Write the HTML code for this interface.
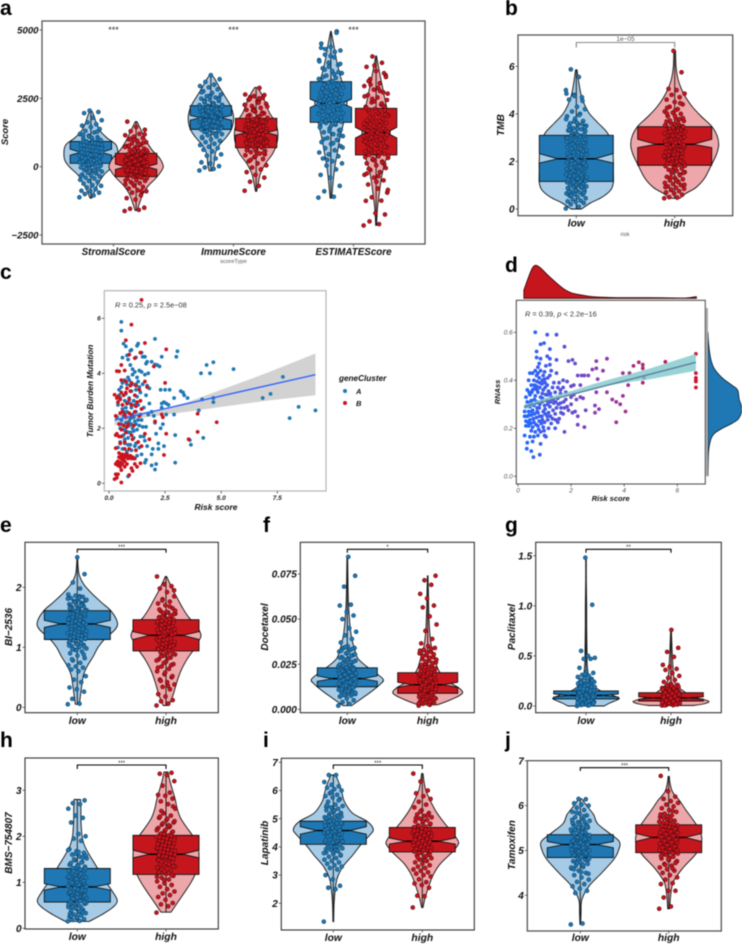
<!DOCTYPE html>
<html lang="en">
<head>
<meta charset="utf-8">
<title>Risk score multi-panel figure</title>
<style>
html,body{margin:0;padding:0;background:#fff;width:742px;height:944px;overflow:hidden}
svg{display:block;filter:blur(.45px)}
text{font-family:"Liberation Sans",sans-serif}
.letter{font-size:21px;font-weight:700;fill:#000}
.ylab{font-size:10px;font-weight:700;font-style:italic;fill:#111;text-anchor:middle}
.small{font-size:5.8px;fill:#555;text-anchor:middle}
</style>
</head>
<body>
<svg id="figure" xmlns="http://www.w3.org/2000/svg" width="742" height="944" viewBox="0 0 742 944">
<rect width="742" height="944" fill="#fff"/>
<g id="plots"></g>
<g>
<text class="letter" x="0" y="15">a</text>
<text class="letter" x="505" y="15">b</text>
<text class="letter" x="0" y="279">c</text>
<text class="letter" x="505" y="272">d</text>
<text class="letter" x="0" y="532">e</text>
<text class="letter" x="263" y="532">f</text>
<text class="letter" x="505" y="532">g</text>
<text class="letter" x="0" y="747">h</text>
<text class="letter" x="263" y="747">i</text>
<text class="letter" x="505" y="747">j</text>
</g>
<g>
<text class="ylab" style="font-size:9.5px" transform="translate(8,132) rotate(-90)">Score</text>
<text class="small" x="233.5" y="263">scoreType</text>
<text class="ylab" transform="translate(504,125) rotate(-90)">TMB</text>
<text class="small" x="625" y="236">risk</text>
<text class="ylab" style="font-size:8.2px" transform="translate(93,391) rotate(-90)">Tumor Burden Mutation</text>
<text class="ylab" style="font-size:8.5px" x="216" y="510">Risk score</text>
<text class="ylab" style="font-size:7.5px" transform="translate(500,392) rotate(-90)">RNAss</text>
<text class="ylab" style="font-size:7.5px" x="610.7" y="501">Risk score</text>
<text class="ylab" transform="translate(12,627) rotate(-90)">BI−2536</text>
<text class="ylab" transform="translate(268,627) rotate(-90)">Docetaxel</text>
<text class="ylab" transform="translate(515,627) rotate(-90)">Paclitaxel</text>
<text class="ylab" transform="translate(12,843) rotate(-90)">BMS−754807</text>
<text class="ylab" transform="translate(268,843) rotate(-90)">Lapatinib</text>
<text class="ylab" transform="translate(515,845) rotate(-90)">Tamoxifen</text>
</g>
<g>
<text x="115" y="307.7" font-size="7.4" fill="#333"><tspan font-style="italic">R</tspan> = 0.25, <tspan font-style="italic">p</tspan> = 2.5e−08</text>
<text x="525" y="316.3" font-size="7.4" fill="#333"><tspan font-style="italic">R</tspan> = 0.39, <tspan font-style="italic">p</tspan> &lt; 2.2e−16</text>
</g>
<g>
<text x="339" y="381" font-size="8.2" font-weight="700" font-style="italic" fill="#111">geneCluster</text>
<circle cx="345" cy="391" r="2" fill="#1f78b4"/>
<text x="356" y="394" font-size="7.5" font-weight="700" font-style="italic" fill="#111">A</text>
<circle cx="345" cy="403" r="2" fill="#c9141e"/>
<text x="356" y="406" font-size="7.5" font-weight="700" font-style="italic" fill="#111">B</text>
</g>
</svg>
<script>
/* ---------- panel a data ---------- */
const aCategories=['StromalScore','ImmuneScore','ESTIMATEScore'];
const aTicks=[5000,2500,0,-2500];
const aTickLabels=['5000','2500','0','−2500'];
const aStromalLowBox=[125,420,525,640,925];
const aStromalHighBox=[-365,-100,0,100,490];
const aImmuneLowBox=[1365,1700,1790,1880,2230];
const aImmuneHighBox=[695,1150,1245,1340,1770];
const aEstimateLowBox=[1625,2170,2320,2470,3110];
const aEstimateHighBox=[430,1050,1245,1440,2135];
const aStromalLowViolinY=[-1150,-900,-600,-300,-50,200,500,800,1050,1300,1600,1850,2050];
const aStromalLowViolinD=[3,14,28,48,75,95,100,93,60,35,20,12,3];
const aStromalHighViolinY=[-1600,-1350,-1000,-700,-400,-100,50,300,600,900,1200,1450,1650];
const aStromalHighViolinD=[4,12,25,45,75,97,100,88,60,40,25,13,3];
const aImmuneLowViolinY=[-150,100,300,550,800,1100,1400,1800,2200,2600,2900,3200,3350];
const aImmuneLowViolinD=[8,14,16,22,38,70,92,100,88,60,38,18,5];
const aImmuneHighViolinY=[-900,-600,-250,100,500,900,1250,1600,2000,2400,2700,2900];
const aImmuneHighViolinD=[3,10,20,42,78,97,100,90,60,40,22,6];
const aEstimateLowViolinY=[-1150,-500,0,500,1000,1500,2000,2400,2900,3400,3900,4400,4950];
const aEstimateLowViolinD=[5,15,25,40,55,75,95,100,80,55,35,20,2];
const aEstimateHighViolinY=[-2150,-1500,-1000,-500,0,500,1000,1300,1800,2300,2800,3300,3700,4050];
const aEstimateHighViolinD=[3,10,22,35,55,85,97,100,90,70,50,30,15,3];
const aStromalLowPoints=[-1120,-1050,-1000,-950,-900,-880,-820,-760,-700,-680,-620,-560,-520,-480,-430,-400,-360,-320,-290,-250,-220,-180,-150,-120,-90,-60,-30,0,20,50,80,100,130,160,190,210,240,260,290,310,340,360,390,410,440,460,490,510,540,560,590,610,640,660,690,710,740,770,800,830,860,890,920,950,990,1030,1080,1130,1190,1250,1310,1380,1450,1500,1550,1620,1700,1790,1960,2000,2050,-340,-210,-70,30,120,200,270,330,400,450,500,550,600,650,700,750,810,870,930,1010,1100,1210,-130,60,170,250,350,420,470,530,580,630,680,730,780,850,900,970,1060,1160,1280,70,150,220,300,370,430,520,570,620,670,720,790,840];
const aStromalHighPoints=[-1620,-1580,-1540,-1500,-1200,-1150,-1050,-950,-900,-860,-800,-740,-700,-650,-600,-560,-520,-480,-440,-400,-370,-340,-310,-280,-250,-220,-190,-160,-130,-110,-80,-60,-40,-20,0,20,40,60,80,100,120,140,160,180,200,230,260,290,320,350,380,410,440,470,500,540,580,620,660,700,750,800,850,900,950,1000,1050,1100,1150,1200,1300,1350,1450,1650,-900,-620,-420,-350,-290,-230,-170,-120,-70,-30,10,50,90,130,170,210,250,300,340,390,430,480,520,600,680,770,870,980,-500,-380,-300,-240,-180,-140,-90,-50,30,70,110,150,190,240,280,330,370,420,460,560,640,720,820,1020,1180];
const aImmuneLowPoints=[-140,-80,-30,20,120,160,300,400,450,560,620,680,730,790,840,900,950,1000,1050,1100,1150,1190,1230,1270,1310,1350,1390,1420,1450,1480,1510,1540,1570,1600,1630,1660,1690,1720,1750,1780,1810,1840,1870,1900,1930,1960,1990,2020,2050,2080,2110,2140,2170,2200,2230,2260,2300,2350,2400,2440,2490,2530,2580,2640,2700,2760,2830,2900,2950,3000,3100,3200,3350,1080,1210,1330,1440,1520,1590,1650,1710,1770,1830,1890,1950,2010,2070,2130,2190,2250,2320,2420,2510,2610,2720,1180,1290,1400,1500,1560,1620,1680,1740,1800,1860,1920,1980,2040,2100,2160,2220,2280,2380,2470,2560,1360,1470,1580,1740,1850,1910,1970,2030,2150];
const aImmuneHighPoints=[-880,-700,-550,-400,-300,-200,-100,-30,50,120,200,280,350,420,480,530,580,620,660,700,730,760,800,830,860,890,920,950,980,1010,1040,1070,1100,1130,1160,1190,1210,1240,1270,1300,1330,1360,1390,1420,1450,1480,1510,1540,1570,1600,1630,1660,1690,1720,1750,1790,1840,1890,1950,2010,2080,2150,2220,2300,2380,2450,2520,2580,2640,2880,250,450,560,680,780,870,970,1060,1150,1220,1320,1410,1500,1590,1680,1770,1860,1980,2120,2260,2420,2550,2620,390,600,740,820,910,1000,1090,1180,1260,1350,1440,1530,1620,1710,1810,1920,2060,2200,2340,2480,510,640,850,1030,1120,1280,1370,1560,1650,2040,2260,2500];
const aEstimateLowPoints=[-1130,-1100,-900,-700,-400,-300,-100,40,120,200,300,380,450,520,600,680,750,830,900,980,1050,1120,1190,1260,1330,1400,1470,1540,1600,1650,1700,1760,1820,1880,1930,1990,2040,2090,2140,2190,2230,2270,2310,2350,2390,2430,2470,2510,2550,2590,2640,2690,2740,2790,2840,2890,2940,2990,3040,3100,3170,3250,3330,3420,3500,3600,3720,3800,3900,4000,4100,4250,4380,4500,4950,250,700,860,1010,1160,1300,1440,1570,1680,1790,1900,2010,2110,2210,2290,2370,2450,2530,2610,2710,2810,2910,3010,3130,3280,3460,3660,3850,4200,4300,1350,1500,1620,1730,1850,1960,2070,2160,2250,2330,2410,2490,2570,2660,2760,2860,2960,3070,3210,3380,3550,3760,4050,4350,4900];
const aEstimateHighPoints=[-2150,-2100,-2000,-1750,-1700,-1250,-1240,-1120,-950,-800,-650,-500,-400,-300,-200,-120,-50,50,120,190,260,320,380,430,470,520,570,620,670,720,770,820,860,900,940,980,1020,1060,1100,1140,1180,1220,1260,1300,1340,1380,1420,1460,1500,1550,1600,1650,1700,1760,1820,1880,1940,2000,2060,2120,2190,2270,2350,2440,2530,2620,2720,2820,2950,3050,3200,3350,3500,3650,3800,4030,-850,-350,-80,90,220,350,490,600,700,800,880,960,1040,1120,1200,1280,1360,1440,1530,1630,1730,1850,1970,2090,2220,2390,2570,2770,3000,3280,-550,-250,150,290,410,540,640,740,840,920,1000,1080,1160,1240,1320,1400,1480,1580,1680,1790,1910,2030,2150,2310,2480,2670,2880,3130,3420,3700];
/* ---------- panel b data ---------- */
const bCategories=['low','high'];
const bTicks=[6,4,2,0];
const bTickLabels=['6','4','2','0'];
const bLowBox=[1.16,1.93,2.11,2.33,3.1];
const bHighBox=[1.84,2.58,2.72,2.93,3.46];
const bLowViolinY=[0,0.25,0.5,0.8,1.1,1.6,2.1,2.7,3.2,3.6,4,4.4,4.8,5.3,5.85];
const bLowViolinD=[14,38,70,93,100,100,100,97,84,60,36,22,13,7,2];
const bHighViolinY=[0.45,0.65,0.9,1.3,1.8,2.3,2.7,3.1,3.5,3.9,4.3,4.7,5.1,5.5,6,6.65];
const bHighViolinD=[12,25,48,68,82,95,100,96,83,60,40,25,14,7,3,2];
const bLowPoints=[0.02,0.1,0.2,0.25,0.3,0.32,0.35,0.4,0.45,0.5,0.55,0.6,0.62,0.65,0.7,0.72,0.75,0.8,0.85,0.9,0.92,0.95,1,1.02,1.05,1.1,1.12,1.15,1.2,1.22,1.25,1.3,1.35,1.4,1.45,1.5,1.52,1.55,1.6,1.65,1.7,1.72,1.75,1.8,1.85,1.9,1.92,1.95,2,2.02,2.05,2.1,2.15,2.2,2.25,2.3,2.35,2.4,2.5,2.55,2.6,2.65,2.7,2.75,2.8,2.85,2.9,2.95,3,3.05,3.1,3.15,3.2,3.3,3.35,3.4,3.5,3.55,3.6,3.7,3.8,3.9,4,4.1,4.2,4.3,4.6,4.7,4.8,5,5.55,5.87,0.68,0.78,0.88,0.98,1.08,1.18,1.28,1.38,1.48,1.58,1.68,1.78,1.88,1.98,2.08,2.18,2.28,2.38,2.48,2.58,2.68,2.78,2.88,2.98,3.08,3.18,3.28,3.38,3.48,3.58,3.68,3.78,3.95,0.58,0.83,1.03,1.23,1.43,1.63,1.83,2.03,2.23,2.43,2.63,2.83,3.03,3.23,3.43,3.63,0.73,0.93,1.13,1.33,1.53,1.73,1.93,2.13,2.33,2.53,2.73,2.93,3.13,3.33,4.55,4.75,4.85];
const bHighPoints=[0.45,0.48,0.5,0.6,0.65,0.7,0.75,0.8,0.85,0.9,0.95,1,1.05,1.1,1.15,1.2,1.25,1.3,1.35,1.45,1.5,1.55,1.6,1.65,1.7,1.75,1.8,1.85,1.9,1.95,2,2.05,2.1,2.15,2.2,2.25,2.3,2.35,2.4,2.45,2.5,2.55,2.6,2.65,2.7,2.75,2.8,2.85,2.9,2.95,3,3.05,3.1,3.15,3.2,3.25,3.3,3.35,3.4,3.45,3.5,3.55,3.6,3.7,3.8,3.9,4,4.05,4.1,4.2,4.3,4.4,4.5,4.6,4.7,4.8,4.85,5,5.05,5.75,6.65,0.92,1.12,1.32,1.52,1.72,1.92,2.02,2.12,2.22,2.32,2.42,2.52,2.62,2.72,2.82,2.92,3.02,3.12,3.22,3.32,3.42,3.52,3.62,3.72,3.82,3.92,4.02,1.42,1.62,1.82,1.98,2.08,2.18,2.28,2.38,2.48,2.58,2.68,2.78,2.88,2.98,3.08,3.18,3.28,3.38,3.48,3.58,3.68,3.78,0.82,1.02,1.22,2.26,2.46,2.66,2.86,3.06,3.26,3.46,4.15,4.25,4.45];
/* ---------- panel c data ---------- */
const cXTicks=[0,2.5,5,7.5];
const cXLabels=['0.0','2.5','5.0','7.5'];
const cYTicks=[0,2,4,6];
const cYLabels=['0','2','4','6'];
const cFitX=[0.25,9.2];
const cFitY=[2.3,3.95];
const cBandX=[0.25,0.8,1.5,2.5,3.5,5,7,9.2];
const cBandLow=[2.1,2.25,2.38,2.5,2.6,2.78,3,3.2];
const cBandHigh=[2.5,2.5,2.58,2.72,2.95,3.4,4,4.72];
const cClusterA=[[9.2,2.65],[8.45,2.78],[8.05,2.37],[7.75,3.87],[7.2,3.25],[6.85,3.1],[5.55,4.15],[4.65,4.4],[4.5,4],[4.35,4.3],[4.1,4],[4.65,3.1],[4.65,2.95],[4.15,3.05],[4,2.65],[4.2,1.65],[3.65,1.4],[3.6,1.57],[3.5,3.1],[3.3,3.3],[3.35,3.2],[3.2,3.35],[3.05,4.8],[3,4.6],[2.9,2.5],[2.9,3.1],[2.95,1.75],[2.95,0.75],[2.7,3.4],[2.65,2.85],[2.55,2.9],[2.55,2.5],[2.5,3.4],[2.45,2.95],[2.45,1.35],[2.4,2.15],[2.3,3.4],[2.35,2.9],[2.35,2.75],[2.35,4.6],[2.25,4.25],[2.15,4.3],[2.05,5.25],[2.1,0.7],[2.05,0.5],[1.9,0.65],[2.2,1.45],[2.2,1.25],[2.1,1.8],[1.95,1.25],[1.9,1.05],[2,2.45],[1.9,2.6],[2.05,2.2],[2.3,2],[1.8,3.45],[1.8,2.9],[1.75,4],[1.7,4.42],[1.65,4.35],[1.9,4.42],[2.05,4.32],[1.6,4.6],[1.5,4.6],[1.45,4.75],[1.3,5.08],[1.25,5],[0.95,4.82],[1,4.85],[0.55,5.87],[0.55,5.55],[0.65,5.08],[0.75,4.98],[0.6,4.57],[0.8,4.65],[0.85,4.5],[1.2,4.58],[1.35,4.1],[1.15,4.05],[1.05,3.95],[1.25,3.85],[0.9,3.75],[1.5,3.6],[1.7,3.55],[1.65,3.2],[1.4,3.3],[1.2,3.4],[1,3.35],[0.8,3.6],[0.6,3.65],[0.45,3.4],[0.5,3.1],[0.7,3],[0.9,3.1],[1.1,3],[1.3,2.85],[1.55,2.75],[1.75,2.5],[1.4,2.5],[1.2,2.6],[1,2.75],[0.8,2.6],[0.6,2.7],[0.4,2.85],[0.35,2.4],[0.55,2.3],[0.75,2.2],[0.95,2.35],[1.15,2.25],[1.35,2.1],[1.65,2.05],[0.5,2],[0.7,1.95],[0.85,1.85],[1.05,2],[1.25,1.95],[0.65,1.75],[0.85,1.65],[1.1,1.65],[1.4,1.7],[1.6,1.55],[0.5,1.5],[0.7,1.45],[0.95,1.4],[1.15,1.35],[1.35,1.3],[1.7,1.35],[0.4,1.3],[0.6,1.25],[0.8,1.15],[1,1.2],[1.25,1],[1.45,1.05],[1.65,0.85],[0.85,0.25],[1.1,0.9],[1.6,0.75],[0.95,2.9],[1.35,3.5],[0.75,3.25],[0.65,2.45],[1.45,2.3],[0.9,2.1],[0.7,1.6],[0.75,1.9],[0.8,2.05],[0.9,2.25],[1,2.15],[1.1,1.9],[1.2,2.15],[1.3,2.3],[0.55,2.15],[0.65,2.6],[0.75,2.75],[0.85,2.95],[1.05,2.5],[1.15,2.85],[1.25,3.15],[0.45,3.2],[0.55,3.5],[0.7,3.75],[0.85,3.85],[1.05,3.6],[1.2,3.6],[1.3,3.7],[1.05,4.15],[0.95,4.3],[1.45,4.05],[1.6,3.95],[0.65,1.95],[0.95,1.85],[1.1,2.4],[1.5,2.05],[1.55,1.7],[0.85,1.4],[1.2,1.45]];
const cClusterB=[[1.45,6.67],[1,5.77],[0.75,5.2],[1.6,5.1],[2.55,4.87],[1.4,4.75],[0.9,4.68],[1.15,4.55],[0.55,4.3],[0.35,4.08],[0.7,4.1],[2,4.25],[0.45,4.07],[1,3.65],[2.5,3.65],[1.6,3.7],[1.7,3.5],[4.8,2.22],[3.95,2.53],[3.95,1.87],[3.55,1.6],[2.55,1.8],[2.45,1.03],[2.4,2.4],[2.35,2.5],[2.05,2.25],[0.25,3.22],[0.4,3.15],[0.55,3.3],[0.75,3.3],[0.95,3.55],[1.15,3.2],[1.35,3.4],[1.45,2.7],[1.25,2.95],[1,2.85],[0.8,2.9],[0.6,2.85],[0.4,2.95],[0.3,2.45],[0.5,2.55],[0.7,2.5],[0.9,2.55],[1.15,2.6],[1.35,2.45],[0.45,2.15],[0.65,2.1],[0.85,2.15],[1.1,2.1],[0.35,1.8],[0.55,1.7],[0.75,1.85],[1,1.75],[1.3,1.5],[1.6,1.8],[1.8,1.6],[0.3,1.75],[0.5,1.45],[0.7,1.25],[0.9,1.25],[1.2,1.2],[0.3,1.28],[0.45,1.1],[0.55,1],[0.65,0.95],[0.75,1.05],[0.85,0.9],[0.95,1],[1.05,0.95],[1.15,0.9],[0.6,0.85],[0.7,0.8],[0.8,0.95],[0.5,0.75],[0.4,0.8],[0.3,0.7],[0.4,0.65],[0.5,0.6],[0.6,0.7],[0.8,0.7],[0.7,0.6],[1,0.55],[1.15,0.7],[1.25,0.6],[1.05,0.45],[0.55,0.48],[0.3,0.33],[0.4,0.33],[0.25,0.15],[0.35,0.2],[0.55,0.03],[0.9,0.3],[1.4,0.73],[0.6,1.05],[0.7,1],[0.65,0.9],[0.8,1.05],[0.9,0.95],[1,0.9],[0.55,0.9],[0.45,0.95],[0.35,0.75],[0.45,0.7],[0.55,3.75],[0.75,3.7],[0.8,3.45],[0.65,3.2],[0.5,3.05],[0.35,3.1],[0.6,2.6],[0.75,2.4],[1,2.45],[1.2,2.8],[1.4,3],[0.9,3.05],[1.2,3.55],[0.8,2.05],[0.55,1.95],[0.45,1.7],[1.05,1.6],[1.45,1.35],[0.7,1.5],[0.95,3.35]];
/* ---------- panel d data ---------- */
const dXTicks=[0,2,4,6];
const dXLabels=['0','2','4','6'];
const dYTicks=[0,0.2,0.4,0.6];
const dYLabels=['0.0','0.2','0.4','0.6'];
const dFitX=[0.25,6.7];
const dFitY=[0.29,0.475];
const dBandX=[0.25,1,2,3,4,5,6.7];
const dBandLow=[0.28,0.31,0.34,0.37,0.39,0.405,0.44];
const dBandHigh=[0.3,0.325,0.355,0.39,0.42,0.45,0.51];
const dTopDensityX=[0.22,0.4,0.55,0.68,0.85,1.1,1.4,1.7,2,2.4,2.8,3.5,4.5,5.5,6.3,6.72];
const dTopDensityV=[0.25,0.65,0.93,1,0.92,0.72,0.5,0.3,0.17,0.1,0.05,0.025,0.02,0.015,0.01,0.05];
const dRightDensityY=[0,0.08,0.12,0.16,0.18,0.2,0.22,0.24,0.28,0.32,0.36,0.38,0.41,0.45,0.49,0.55,0.6];
const dRightDensityV=[0,0.01,0.03,0.1,0.2,0.42,0.7,0.9,1,0.92,0.87,0.7,0.42,0.18,0.08,0.02,0];
const dPoints=[[6.7,0.51],[6.7,0.43],[6.7,0.41],[6.7,0.4],[6.7,0.395],[6.7,0.37],[5.55,0.477],[4.7,0.465],[4.7,0.45],[4.55,0.475],[4.35,0.46],[4.7,0.39],[4.75,0.41],[4.2,0.43],[3.95,0.43],[4.15,0.38],[3.35,0.49],[2.95,0.48],[3.2,0.44],[2.95,0.45],[2.8,0.445],[2.65,0.42],[2.5,0.42],[2.4,0.42],[2.25,0.42],[3,0.405],[2.95,0.35],[3.35,0.35],[3.55,0.32],[3.7,0.31],[3.85,0.3],[3.95,0.335],[4.05,0.27],[3.7,0.225],[2.9,0.295],[3.05,0.28],[2.9,0.265],[2.55,0.275],[2.5,0.205],[2.25,0.215],[2.45,0.325],[2.35,0.33],[2.1,0.34],[2,0.33],[2.35,0.38],[2.1,0.38],[2,0.375],[1.7,0.4],[1.85,0.395],[1.9,0.48],[2.05,0.485],[2.15,0.47],[1.75,0.54],[1.45,0.59],[1.1,0.59],[0.65,0.6],[0.98,0.555],[0.85,0.55],[1.2,0.53],[0.7,0.52],[1.1,0.5],[0.7,0.495],[0.85,0.49],[1.2,0.49],[1.45,0.485],[0.8,0.47],[1.05,0.46],[1.2,0.465],[0.75,0.455],[0.45,0.43],[0.55,0.43],[0.7,0.42],[0.85,0.44],[1,0.435],[1.25,0.44],[1.45,0.43],[0.4,0.4],[0.6,0.4],[0.8,0.41],[1,0.405],[1.2,0.42],[1.35,0.39],[1.55,0.39],[0.5,0.38],[0.7,0.375],[0.9,0.385],[1.1,0.38],[1.3,0.37],[1.5,0.37],[1.7,0.37],[0.35,0.36],[0.55,0.36],[0.75,0.35],[0.95,0.36],[1.15,0.355],[1.4,0.35],[1.6,0.345],[0.3,0.33],[0.45,0.34],[0.65,0.335],[0.85,0.33],[1.05,0.34],[1.25,0.33],[1.5,0.325],[1.8,0.32],[0.35,0.31],[0.5,0.315],[0.7,0.31],[0.9,0.31],[1.1,0.315],[1.35,0.305],[1.6,0.305],[2,0.3],[0.3,0.29],[0.45,0.29],[0.6,0.295],[0.8,0.285],[1,0.295],[1.2,0.29],[1.45,0.285],[1.75,0.285],[1.9,0.275],[2.15,0.27],[0.25,0.27],[0.4,0.27],[0.55,0.275],[0.75,0.265],[0.95,0.27],[1.15,0.265],[1.4,0.26],[1.7,0.26],[2.25,0.25],[0.25,0.25],[0.35,0.25],[0.5,0.255],[0.7,0.245],[0.9,0.25],[1.1,0.25],[1.3,0.24],[1.55,0.24],[0.3,0.23],[0.45,0.235],[0.6,0.225],[0.8,0.23],[1,0.225],[1.25,0.22],[1.5,0.225],[0.3,0.21],[0.4,0.21],[0.55,0.205],[0.75,0.21],[0.95,0.205],[1.15,0.2],[1.4,0.2],[1.75,0.185],[0.5,0.19],[0.65,0.185],[0.85,0.185],[1,0.17],[1.05,0.165],[0.45,0.165],[0.6,0.165],[0.75,0.17],[0.25,0.17],[0.55,0.145],[0.85,0.135],[0.35,0.14],[0.33,0.115],[0.5,0.105],[0.58,0.08],[0.82,0.09],[0.42,0.305],[0.52,0.3],[0.62,0.32],[0.72,0.285],[0.82,0.3],[0.92,0.325],[1.02,0.28],[1.12,0.3],[1.22,0.31],[0.42,0.255],[0.52,0.27],[0.62,0.26],[0.72,0.27],[0.82,0.25],[0.92,0.235],[1.02,0.26],[1.12,0.235],[1.22,0.25],[0.38,0.225],[0.48,0.22],[0.58,0.24],[0.68,0.215],[0.78,0.195],[0.88,0.22],[0.98,0.19],[0.42,0.35],[0.52,0.35],[0.62,0.365],[0.72,0.36],[0.82,0.37],[0.92,0.345],[1.02,0.37],[1.12,0.34],[1.22,0.345],[1.32,0.32],[1.42,0.31],[1.52,0.3],[1.62,0.285],[1.72,0.31],[1.32,0.275],[1.42,0.235],[1.62,0.265],[0.62,0.38],[0.72,0.395],[0.82,0.39],[0.92,0.4],[1.02,0.39],[1.12,0.41],[0.65,0.44],[0.75,0.43],[0.95,0.42],[1.6,0.36],[1.8,0.35],[1.85,0.29],[2.05,0.265],[2.2,0.32]];
/* ---------- panel e data ---------- */
const dualCategories=['low','high'];
const eTicks=[2,1,0];
const eTickLabels=['2','1','0'];
const eLowBox=[1.13,1.33,1.39,1.45,1.61];
const eHighBox=[0.94,1.13,1.2,1.26,1.46];
const eLowViolinY=[0.05,0.2,0.4,0.55,0.7,0.85,1,1.15,1.3,1.42,1.6,1.75,1.9,2.05,2.2,2.35,2.5];
const eLowViolinD=[5,8,12,16,26,40,52,70,95,100,85,60,36,16,5,2,1];
const eHighViolinY=[0.03,0.2,0.4,0.6,0.8,0.95,1.1,1.2,1.35,1.5,1.65,1.8,1.95,2.1,2.18];
const eHighViolinD=[8,20,30,42,60,78,93,100,88,65,48,34,20,8,2];
const eLowPoints=[0.05,0.06,0.14,0.26,0.3,0.33,0.42,0.46,0.52,0.6,0.63,0.66,0.68,0.7,0.74,0.78,0.82,0.86,0.9,0.93,0.96,0.98,1,1.02,1.04,1.06,1.08,1.1,1.12,1.14,1.16,1.18,1.2,1.22,1.24,1.26,1.28,1.3,1.32,1.34,1.36,1.37,1.38,1.39,1.4,1.42,1.44,1.46,1.48,1.5,1.52,1.54,1.56,1.58,1.6,1.62,1.64,1.66,1.68,1.7,1.72,1.74,1.76,1.78,1.8,1.82,1.84,1.86,1.88,1.98,2.08,2.22,2.5,1.15,1.19,1.23,1.27,1.31,1.35,1.41,1.45,1.49,1.53,1.57,1.61,1.65,1.69,1.73,1.77,1.81,1.85,0.97,1.01,1.05,1.09,1.13,1.17,1.21,1.25,1.29,1.33,1.43,1.47,1.51,1.55,1.59,1.63,1.67,1.71,1.75,1.79,1.83,0.8,0.88,0.95,1.03,1.07,1.11,1.15,1.2,1.25,1.3,1.35,1.4,1.45,1.5,1.55,1.6,1.65,1.7];
const eHighPoints=[0.03,0.06,0.1,0.12,0.18,0.22,0.3,0.34,0.38,0.42,0.46,0.5,0.55,0.6,0.64,0.68,0.72,0.76,0.8,0.83,0.86,0.88,0.9,0.92,0.94,0.96,0.98,1,1.02,1.04,1.06,1.08,1.1,1.12,1.14,1.16,1.18,1.2,1.22,1.24,1.26,1.28,1.3,1.32,1.34,1.36,1.38,1.4,1.42,1.44,1.46,1.48,1.5,1.52,1.54,1.56,1.58,1.6,1.65,1.7,1.73,1.76,1.8,1.85,1.92,1.98,2.02,2.05,2.18,0.95,0.99,1.03,1.07,1.11,1.15,1.19,1.23,1.27,1.31,1.35,1.39,1.43,1.47,1.51,1.55,1.59,1.63,0.7,0.74,0.78,0.82,0.85,0.89,0.93,0.97,1.01,1.05,1.09,1.13,1.17,1.21,1.25,1.29,1.33,1.37,1.41,1.45,1.49,1.53,1.57,1.61,0.36,0.44,0.52,0.58,0.66,1.68,1.78,1.95];
/* ---------- panel f data ---------- */
const fTicks=[0.075,0.05,0.025,0];
const fTickLabels=['0.075','0.050','0.025','0.000'];
const fLowBox=[0.0125,0.0155,0.017,0.0185,0.023];
const fHighBox=[0.0089,0.0122,0.0136,0.015,0.0203];
const fLowViolinY=[0.002,0.006,0.01,0.014,0.0165,0.02,0.024,0.028,0.032,0.037,0.042,0.05,0.06,0.07,0.085];
const fLowViolinD=[12,40,68,92,100,80,52,30,22,15,10,6,3,2,1];
const fHighViolinY=[0.0025,0.005,0.0075,0.0095,0.012,0.015,0.019,0.023,0.027,0.032,0.037,0.045,0.055,0.065,0.074];
const fHighViolinD=[28,62,90,100,88,62,40,28,22,14,9,5,3,2,1];
const fLowPoints=[0.002,0.003,0.004,0.005,0.006,0.007,0.0075,0.008,0.0085,0.009,0.0095,0.01,0.0105,0.011,0.0115,0.012,0.0125,0.013,0.0135,0.014,0.0145,0.015,0.0152,0.0158,0.0164,0.017,0.0175,0.018,0.0185,0.019,0.0195,0.02,0.0205,0.021,0.0215,0.022,0.0225,0.023,0.0235,0.024,0.025,0.026,0.027,0.028,0.029,0.03,0.031,0.032,0.033,0.034,0.034,0.035,0.037,0.039,0.041,0.043,0.045,0.05,0.052,0.054,0.0575,0.058,0.068,0.074,0.0845,0.0078,0.0088,0.0098,0.0108,0.0118,0.0128,0.0138,0.0148,0.0155,0.016,0.0167,0.0172,0.0178,0.0183,0.0188,0.0193,0.0198,0.0203,0.0208,0.0213,0.0218,0.0223,0.0228,0.0233,0.0238,0.0245,0.0255,0.0265,0.0275,0.0285,0.0295,0.0082,0.0092,0.0102,0.0112,0.0122,0.0132,0.0142,0.015,0.0162,0.0168,0.0174,0.018,0.0186,0.0192,0.0201,0.0207,0.0212,0.022,0.0232,0.0248,0.0262,0.0278,0.0305,0.0315,0.0325,0.0335,0.0345];
const fHighPoints=[0.002,0.0025,0.003,0.0035,0.004,0.0045,0.005,0.0055,0.006,0.0065,0.007,0.0075,0.008,0.0085,0.009,0.0095,0.01,0.0105,0.011,0.0115,0.012,0.0125,0.013,0.0135,0.014,0.0145,0.015,0.0155,0.016,0.0165,0.017,0.0175,0.018,0.0185,0.019,0.0195,0.02,0.021,0.022,0.023,0.024,0.025,0.026,0.027,0.028,0.029,0.03,0.031,0.032,0.033,0.034,0.035,0.0365,0.039,0.0435,0.047,0.0515,0.0565,0.0575,0.0615,0.064,0.069,0.0715,0.074,0.0028,0.0038,0.0048,0.0058,0.0068,0.0078,0.0088,0.0098,0.0108,0.0118,0.0128,0.0138,0.0148,0.0158,0.0168,0.0178,0.0188,0.0198,0.0205,0.0215,0.0225,0.0235,0.0245,0.0255,0.0265,0.0032,0.0042,0.0052,0.0062,0.0072,0.0082,0.0092,0.0102,0.0112,0.0122,0.0132,0.0142,0.0152,0.0162,0.0172,0.0182,0.0192,0.0202,0.0212,0.0222,0.0232,0.0275,0.0285,0.0295,0.0305,0.0315,0.0325,0.0335];
/* ---------- panel g data ---------- */
const gTicks=[1.5,1,0.5,0];
const gTickLabels=['1.5','1.0','0.5','0.0'];
const gLowBox=[0.07,0.09,0.105,0.12,0.15];
const gHighBox=[0.05,0.068,0.08,0.092,0.133];
const gLowViolinY=[0,0.03,0.06,0.08,0.11,0.14,0.18,0.22,0.3,0.4,0.55,0.8,1,1.25,1.48];
const gLowViolinD=[55,72,94,100,78,52,30,16,8,4,3,2,2,1,1];
const gHighViolinY=[0.005,0.02,0.045,0.07,0.1,0.14,0.18,0.22,0.3,0.4,0.55,0.65,0.76];
const gHighViolinD=[60,85,100,80,50,36,22,12,7,5,3,2,1];
const gLowPoints=[0,0.005,0.01,0.015,0.02,0.025,0.03,0.035,0.04,0.045,0.05,0.055,0.06,0.065,0.07,0.075,0.08,0.085,0.09,0.095,0.1,0.105,0.11,0.115,0.12,0.125,0.13,0.135,0.14,0.145,0.15,0.155,0.16,0.165,0.17,0.175,0.18,0.19,0.2,0.21,0.22,0.23,0.24,0.25,0.26,0.27,0.28,0.29,0.3,0.31,0.33,0.34,0.38,0.47,0.47,0.48,0.5,0.55,1.01,1.48,0.012,0.022,0.032,0.042,0.052,0.062,0.072,0.082,0.092,0.102,0.112,0.122,0.132,0.142,0.152,0.162,0.172,0.182,0.195,0.205,0.215,0.225,0.008,0.018,0.028,0.038,0.048,0.058,0.068,0.078,0.088,0.098,0.108,0.118,0.128,0.138,0.148,0.158,0.168,0.178,0.188,0.198,0.03,0.05,0.07,0.09,0.11,0.13,0.15,0.17,0.19,0.21,0.235,0.255,0.32];
const gHighPoints=[0.005,0.008,0.01,0.015,0.02,0.025,0.03,0.035,0.04,0.045,0.05,0.055,0.06,0.065,0.07,0.075,0.08,0.085,0.09,0.095,0.1,0.105,0.11,0.115,0.12,0.125,0.13,0.135,0.14,0.145,0.15,0.155,0.16,0.17,0.18,0.19,0.2,0.21,0.22,0.24,0.26,0.28,0.3,0.33,0.36,0.37,0.39,0.41,0.49,0.54,0.58,0.76,0.012,0.018,0.022,0.028,0.032,0.038,0.042,0.048,0.052,0.058,0.062,0.068,0.072,0.078,0.082,0.088,0.092,0.098,0.102,0.108,0.112,0.118,0.122,0.128,0.132,0.138,0.142,0.148,0.152,0.162,0.172,0.182,0.192,0.202,0.006,0.016,0.026,0.036,0.046,0.056,0.066,0.076,0.086,0.096,0.106,0.116,0.126,0.136,0.146,0.156,0.166,0.176,0.205];
/* ---------- panel h data ---------- */
const hTicks=[3,2,1,0];
const hTickLabels=['3','2','1','0'];
const hLowBox=[0.57,0.83,0.9,0.97,1.3];
const hHighBox=[1.17,1.53,1.61,1.7,2.02];
const hLowViolinY=[0.15,0.3,0.45,0.6,0.8,1,1.2,1.4,1.6,1.8,2,2.2,2.4,2.6,2.8];
const hLowViolinD=[30,62,88,100,88,72,58,44,30,18,12,10,9,9,8];
const hHighViolinY=[0.35,0.55,0.8,1,1.2,1.4,1.6,1.8,2,2.2,2.4,2.6,2.8,3,3.2,3.4];
const hHighViolinD=[15,34,58,76,90,98,100,96,82,62,44,34,28,20,12,6];
const hLowPoints=[0.15,0.16,0.18,0.2,0.22,0.25,0.28,0.3,0.33,0.36,0.38,0.4,0.43,0.46,0.48,0.5,0.53,0.56,0.58,0.6,0.63,0.66,0.68,0.7,0.72,0.74,0.76,0.78,0.8,0.82,0.84,0.86,0.88,0.9,0.92,0.94,0.96,0.98,1,1.02,1.05,1.08,1.1,1.13,1.16,1.19,1.22,1.25,1.28,1.31,1.34,1.37,1.4,1.44,1.48,1.52,1.56,1.6,1.64,1.68,1.72,1.9,1.95,2,2.05,2.3,2.4,2.45,2.6,2.7,2.72,2.78,0.24,0.32,0.42,0.51,0.55,0.61,0.65,0.69,0.73,0.77,0.81,0.85,0.89,0.93,0.97,1.01,1.06,1.11,1.15,1.2,1.26,1.32,1.38,1.43,1.5,1.58,1.66,0.27,0.35,0.44,0.52,0.59,0.64,0.71,0.75,0.79,0.83,0.87,0.91,0.95,0.99,1.03,1.07,1.12,1.18,1.24,1.3,1.36,1.42,1.54,1.62,1.7,0.37,0.47,0.57,0.67];
const hHighPoints=[0.34,0.48,0.52,0.55,0.62,0.68,0.72,0.76,0.8,0.85,0.9,0.94,0.98,1.02,1.06,1.1,1.14,1.18,1.22,1.26,1.3,1.34,1.37,1.4,1.43,1.46,1.49,1.52,1.55,1.58,1.61,1.64,1.67,1.7,1.73,1.76,1.79,1.82,1.85,1.88,1.91,1.94,1.97,2,2.04,2.08,2.12,2.16,2.2,2.25,2.3,2.35,2.4,2.45,2.5,2.6,2.7,2.76,2.82,2.88,2.9,2.95,3.1,3.2,3.33,3.36,3.38,1.05,1.12,1.2,1.28,1.35,1.42,1.48,1.53,1.57,1.6,1.63,1.66,1.69,1.72,1.75,1.78,1.81,1.84,1.87,1.9,1.93,1.96,1.99,2.02,2.06,2.1,2.14,2.18,2.22,2.28,2.33,2.38,2.43,1.15,1.24,1.32,1.39,1.45,1.51,1.56,1.59,1.62,1.65,1.68,1.71,1.74,1.77,1.8,1.83,1.86,1.89,1.92,1.95,1.98,2.01,2.05,2.13,2.24,2.55,2.65];
/* ---------- panel i data ---------- */
const iTicks=[7,6,5,4,3,2];
const iTickLabels=['7','6','5','4','3','2'];
const iLowBox=[4.09,4.45,4.58,4.72,4.91];
const iHighBox=[3.82,4.1,4.2,4.32,4.69];
const iLowViolinY=[1.35,2,2.5,2.9,3.3,3.7,4.1,4.4,4.62,4.9,5.2,5.6,5.9,6.2,6.55];
const iLowViolinD=[1,2,5,10,24,48,70,90,100,85,48,28,22,16,6];
const iHighViolinY=[1.85,2.2,2.6,3,3.4,3.8,4.05,4.2,4.5,4.9,5.3,5.7,6,6.3,6.6];
const iHighViolinD=[2,8,18,30,50,82,98,100,84,58,36,20,10,5,2];
const iLowPoints=[1.35,2.5,2.55,2.62,2.85,3,3.2,3.25,3.3,3.35,3.4,3.45,3.5,3.55,3.6,3.65,3.7,3.75,3.8,3.85,3.9,3.95,4,4.05,4.1,4.14,4.18,4.22,4.26,4.3,4.34,4.38,4.42,4.46,4.5,4.54,4.58,4.62,4.66,4.7,4.74,4.78,4.82,4.86,4.9,4.95,5,5.05,5.1,5.15,5.2,5.25,5.3,5.35,5.4,5.45,5.5,5.6,5.7,5.75,5.8,5.85,5.9,6,6.05,6.1,6.15,6.2,6.3,6.55,6.55,3.72,3.82,3.92,4.02,4.12,4.2,4.28,4.36,4.44,4.52,4.6,4.68,4.76,4.84,4.92,5.02,5.12,5.22,3.78,3.88,3.98,4.08,4.16,4.24,4.32,4.4,4.48,4.56,4.64,4.72,4.8,4.88,4.97,5.07,5.18,5.32,5.42,3.87,4.03,4.19,4.35,4.51,4.59,4.67,4.75,4.83,4.91,5.08,5.28,5.48,5.65,5.95];
const iHighPoints=[1.85,2.25,2.27,2.55,2.65,2.7,2.75,2.85,2.95,3,3.05,3.1,3.15,3.2,3.25,3.3,3.35,3.4,3.45,3.5,3.55,3.6,3.65,3.7,3.75,3.8,3.84,3.88,3.92,3.96,4,4.04,4.08,4.12,4.16,4.2,4.24,4.28,4.32,4.36,4.4,4.44,4.48,4.52,4.56,4.6,4.64,4.68,4.72,4.76,4.8,4.85,4.9,4.95,5,5.05,5.1,5.15,5.2,5.3,5.4,5.5,5.6,5.7,5.8,5.9,6,6.32,6.6,3.52,3.62,3.72,3.82,3.86,3.9,3.94,3.98,4.02,4.06,4.1,4.14,4.18,4.22,4.26,4.3,4.34,4.38,4.42,4.46,4.5,4.54,4.58,4.62,4.66,4.7,3.68,3.78,3.85,3.89,3.93,3.97,4.01,4.05,4.09,4.13,4.17,4.21,4.25,4.29,4.33,4.37,4.41,4.45,4.49,4.53,4.57,4.61,4.74,4.82,4.92,5.02,5.12,5.25];
/* ---------- panel j data ---------- */
const jTicks=[7,6,5,4];
const jTickLabels=['7','6','5','4'];
const jLowBox=[4.84,5.06,5.13,5.2,5.35];
const jHighBox=[4.95,5.2,5.29,5.38,5.57];
const jLowViolinY=[3.35,3.6,3.9,4.2,4.5,4.8,5,5.2,5.4,5.6,5.8,6,6.15];
const jLowViolinD=[1,2,4,22,55,86,98,100,72,44,34,16,4];
const jHighViolinY=[3.7,4,4.3,4.6,4.9,5.1,5.3,5.5,5.7,5.9,6.1,6.3,6.5,6.65];
const jHighViolinD=[3,6,14,42,80,97,100,90,72,52,34,12,4,2];
const jLowPoints=[3.35,3.37,4.05,4.1,4.15,4.2,4.25,4.3,4.35,4.4,4.45,4.5,4.55,4.6,4.63,4.66,4.7,4.73,4.76,4.79,4.82,4.85,4.87,4.89,4.91,4.93,4.95,4.97,4.99,5.01,5.03,5.05,5.07,5.09,5.11,5.13,5.15,5.17,5.19,5.21,5.23,5.25,5.27,5.3,5.33,5.36,5.39,5.42,5.45,5.48,5.51,5.54,5.57,5.6,5.63,5.66,5.7,5.74,5.78,5.82,5.86,5.9,5.95,6,6.02,6.05,6.14,6.15,4.62,4.68,4.74,4.78,4.83,4.88,4.92,4.96,5,5.04,5.08,5.12,5.16,5.2,5.24,5.28,5.32,5.35,5.38,5.41,5.44,5.47,5.5,5.53,5.56,5.59,5.62,5.65,4.72,4.81,4.86,4.9,4.94,4.98,5.02,5.06,5.1,5.14,5.18,5.22,5.26,5.29,5.34,5.4,5.46,5.52,5.58,5.68,5.76,5.84,4.48,4.52,4.58];
const jHighPoints=[3.7,3.75,3.95,4.1,4.1,4.25,4.27,4.35,4.4,4.45,4.5,4.55,4.58,4.62,4.66,4.7,4.74,4.78,4.82,4.86,4.9,4.93,4.96,4.99,5.02,5.05,5.08,5.11,5.14,5.17,5.2,5.23,5.26,5.29,5.32,5.35,5.38,5.41,5.44,5.47,5.5,5.53,5.56,5.59,5.62,5.66,5.7,5.74,5.78,5.82,5.86,5.9,5.94,5.98,6.02,6.06,6.1,6.15,6.2,6.32,6.66,4.6,4.68,4.76,4.84,4.91,4.95,4.98,5.01,5.04,5.07,5.1,5.13,5.16,5.19,5.22,5.25,5.28,5.31,5.34,5.37,5.4,5.43,5.46,5.49,5.52,5.55,5.58,5.61,5.64,5.68,5.72,4.72,4.8,4.88,4.94,4.97,5,5.03,5.06,5.09,5.12,5.15,5.18,5.21,5.24,5.27,5.3,5.33,5.36,5.39,5.42,5.45,5.48,5.76,5.8,5.88];

/* ---------- drawing helpers ---------- */
const NS='http://www.w3.org/2000/svg';
const root=document.getElementById('plots');
function make(tag,parent,attrs){
  const e=document.createElementNS(NS,tag);
  for(const k in attrs)e.setAttribute(k,attrs[k]);
  parent.appendChild(e);
  return e;
}
function linear(v0,p0,v1,p1){return v=>p0+(v-v0)*(p1-p0)/(v1-v0);}
function curve(pts){
  let d='';
  for(let i=0;i<pts.length-1;i++){
    const p0=pts[Math.max(i-1,0)],p1=pts[i],p2=pts[i+1],p3=pts[Math.min(i+2,pts.length-1)];
    const c1=[p1[0]+(p2[0]-p0[0])/6,p1[1]+(p2[1]-p0[1])/6],c2=[p2[0]-(p3[0]-p1[0])/6,p2[1]-(p3[1]-p1[1])/6];
    d+='C'+c1[0].toFixed(2)+' '+c1[1].toFixed(2)+' '+c2[0].toFixed(2)+' '+c2[1].toFixed(2)+' '+p2[0].toFixed(2)+' '+p2[1].toFixed(2);
  }
  return d;
}
function panelGroup(name){
  const g=make('g',root,{});
  
  
  return g;
}
function drawText(parent,str,x,y,anchor,size,weight,italic,fill,name){
  const t=make('text',parent,{x:x,y:y,'text-anchor':anchor,'font-size':size,'font-weight':weight,'font-style':italic?'italic':'normal',fill:fill});
  
  
  t.textContent=str;
  return t;
}
function drawFrame(parent,box,color,width){
  const r=make('rect',parent,{x:box[0],y:box[1],width:box[2]-box[0],height:box[3]-box[1],fill:'none',stroke:color,'stroke-width':width});
  
  
}
function drawYAxis(parent,box,scale,ticks,labels,size,weight,color){
  ticks.forEach((t,i)=>{
    const y=scale(t);
    const m=make('line',parent,{x1:box[0]-2.5,x2:box[0],y1:y,y2:y,stroke:'#333','stroke-width':.7});
    
    
    drawText(parent,labels[i],box[0]-3.5,y+size*0.36,'end',size,weight,true,color,'y-tick-label');
  });
}
function drawXAxis(parent,box,scale,ticks,labels,size,weight,color,base){
  ticks.forEach((t,i)=>{
    const x=scale(t);
    const m=make('line',parent,{x1:x,x2:x,y1:box[3],y2:box[3]+2.5,stroke:'#333','stroke-width':.7});
    
    
    drawText(parent,labels[i],x,base,'middle',size,weight,true,color,'x-tick-label');
  });
}
const LOW={violin:'#a6cbe6',box:'#1f78b4',dot:'#1f78b4',edge:'#123f5e'};
const HIGH={violin:'#eda6a9',box:'#c5161d',dot:'#c9141e',edge:'#4a0a0c'};
function drawViolinGroup(parent,cx,y,halfBox,maxHalf,jitter,vy,vd,box,points,col,name){
  const g=make('g',parent,{});
  
  
  const right=vy.map((v,i)=>[cx+vd[i]/100*maxHalf,y(v)]);
  const left=vy.map((v,i)=>[cx-vd[i]/100*maxHalf,y(v)]).reverse();
  const vp=make('path',g,{d:'M'+right[0][0]+' '+right[0][1]+curve(right)+'L'+left[0][0]+' '+left[0][1]+curve(left)+'Z',fill:col.violin,stroke:'#111','stroke-width':.9,'stroke-linejoin':'round'});
  
  
  const wl=make('line',g,{x1:cx,x2:cx,y1:y(vy[0]),y2:y(vy[vy.length-1]),stroke:'#222','stroke-width':1});
  
  
  const [q1,nl,med,nh,q3]=box;
  const inset=halfBox*0.5;
  const bp=make('path',g,{d:'M'+(cx-halfBox)+' '+y(q1)+'L'+(cx-halfBox)+' '+y(nl)+'L'+(cx-inset)+' '+y(med)+'L'+(cx-halfBox)+' '+y(nh)+'L'+(cx-halfBox)+' '+y(q3)+'L'+(cx+halfBox)+' '+y(q3)+'L'+(cx+halfBox)+' '+y(nh)+'L'+(cx+inset)+' '+y(med)+'L'+(cx+halfBox)+' '+y(nl)+'L'+(cx+halfBox)+' '+y(q1)+'Z',fill:col.box,stroke:'#111','stroke-width':.9});
  
  
  const ml=make('line',g,{x1:cx-inset,x2:cx+inset,y1:y(med),y2:y(med),stroke:'#000','stroke-width':1.4});
  
  
  points.forEach((v,i)=>{
    const off=((i*0.618034)%1)*2-1;
    const c=make('circle',g,{cx:(cx+off*jitter).toFixed(2),cy:y(v).toFixed(2),r:2,fill:col.dot,stroke:col.edge,'stroke-width':.55});
    
    
  });
}
function drawBracket(parent,x1,x2,yTop,yEnd,color,label,labelY,size){
  const p=make('path',parent,{d:'M'+x1+' '+yEnd+'V'+yTop+'H'+x2+'V'+yEnd,fill:'none',stroke:color,'stroke-width':1.1});
  
  
  drawText(parent,label,(x1+x2)/2,labelY,'middle',size,400,false,color==='#000'?'#222':'#555','significance-label');
}
function drawDualPanel(o){
  const g=panelGroup('panel-'+o.id);
  const y=linear(o.v0,o.p0,o.v1,o.p1);
  const m=make('rect',g,{x:o.box[0],y:o.box[1],width:o.box[2]-o.box[0],height:o.box[3]-o.box[1],fill:'#fff'});
  
  
  drawViolinGroup(g,o.lowX,y,o.halfBox,o.lowMax,o.jitter,o.lowVY,o.lowVD,o.lowBox,o.lowPts,LOW,'low-group');
  drawViolinGroup(g,o.highX,y,o.halfBox,o.highMax,o.jitter,o.highVY,o.highVD,o.highBox,o.highPts,HIGH,'high-group');
  drawFrame(g,o.box,o.frameColor||'#333',o.frameWidth||1.1);
  drawYAxis(g,o.box,y,o.ticks,o.labels,10,700,'#111');
  const cats=o.cats;
  [o.lowX,o.highX].forEach((x,i)=>{
    const m2=make('line',g,{x1:x,x2:x,y1:o.box[3],y2:o.box[3]+2.5,stroke:'#333','stroke-width':.7});
    
    
    drawText(g,cats[i],x,o.catY,'middle',10.3,700,true,'#111','x-category-label');
  });
  drawBracket(g,o.lowX,o.highX,o.brTop,o.brEnd,o.brColor||'#000',o.star,o.starY,o.starSize||6);
}

/* ---------- panel a ---------- */
(function(){
  const g=panelGroup('panel-a');
  const box=[42,21,425,244];
  const y=linear(0,166.7,5000,30);
  const x=linear(0,113.5,1,233.5);
  const dodge=0.1885;
  const groups=[
    [0,-1,27,11.5,aStromalLowViolinY,aStromalLowViolinD,aStromalLowBox,aStromalLowPoints,LOW,'stromal-low'],
    [0,1,27,11.5,aStromalHighViolinY,aStromalHighViolinD,aStromalHighBox,aStromalHighPoints,HIGH,'stromal-high'],
    [1,-1,22.7,11.5,aImmuneLowViolinY,aImmuneLowViolinD,aImmuneLowBox,aImmuneLowPoints,LOW,'immune-low'],
    [1,1,21.7,11.5,aImmuneHighViolinY,aImmuneHighViolinD,aImmuneHighBox,aImmuneHighPoints,HIGH,'immune-high'],
    [2,-1,16,12.5,aEstimateLowViolinY,aEstimateLowViolinD,aEstimateLowBox,aEstimateLowPoints,LOW,'estimate-low'],
    [2,1,14,12.5,aEstimateHighViolinY,aEstimateHighViolinD,aEstimateHighBox,aEstimateHighPoints,HIGH,'estimate-high']
  ];
  groups.forEach(s=>drawViolinGroup(g,x(s[0]+s[1]*dodge),y,20.7,s[2],s[3],s[4],s[5],s[6],s[7],s[8],s[9]));
  drawFrame(g,box,'#555',1.3);
  drawYAxis(g,box,y,aTicks,aTickLabels,9.6,700,'#111');
  aCategories.forEach((c,i)=>{
    const m=make('line',g,{x1:x(i),x2:x(i),y1:244,y2:246.5,stroke:'#333','stroke-width':.7});
    
    
    drawText(g,c,x(i),255,'middle',9.8,700,true,'#111','x-category-label');
    drawText(g,'***',x(i),33,'middle',9,400,false,'#333','significance-stars');
  });
})();

/* ---------- panel b ---------- */
drawDualPanel({id:'b',box:[518,35,732.7,215.7],v0:0,p0:209,v1:6,p1:66.3,lowX:576.3,highX:674.7,halfBox:37,lowMax:37,highMax:44,jitter:10.5,lowVY:bLowViolinY,lowVD:bLowViolinD,lowBox:bLowBox,lowPts:bLowPoints,highVY:bHighViolinY,highVD:bHighViolinD,highBox:bHighBox,highPts:bHighPoints,ticks:bTicks,labels:bTickLabels,cats:bCategories,catY:226.5,brTop:42.5,brEnd:47.5,brColor:'#888',star:'1e−05',starY:41,starSize:6.5,frameColor:'#555',frameWidth:1.3});

/* ---------- panel c ---------- */
(function(){
  const g=panelGroup('panel-c');
  const box=[104.3,290.7,326,491];
  const x=linear(0,109,7.5,277.3);
  const y=linear(0,483.3,6,318.3);
  let d='M'+cBandX.map((v,i)=>x(v)+' '+y(cBandHigh[i])).join('L');
  d+='L'+cBandX.map((v,i)=>x(v)+' '+y(cBandLow[i])).reverse().join('L')+'Z';
  const band=make('path',g,{d:d,fill:'#d2d2d2'});
  
  
  [[cClusterA,'#1f78b4','cluster-a-point'],[cClusterB,'#c9141e','cluster-b-point']].forEach(s=>{
    s[0].forEach(p=>{
      const c=make('circle',g,{cx:x(p[0]).toFixed(2),cy:y(p[1]).toFixed(2),r:1.9,fill:s[1]});
      
      
    });
  });
  const fit=make('line',g,{x1:x(cFitX[0]),y1:y(cFitY[0]),x2:x(cFitX[1]),y2:y(cFitY[1]),stroke:'#3366ff','stroke-width':1.4});
  
  
  drawFrame(g,box,'#b5b5b5',1.2);
  drawYAxis(g,box,y,cYTicks,cYLabels,6.5,700,'#222');
  drawXAxis(g,box,x,cXTicks,cXLabels,6.5,700,'#222',500);
})();

/* ---------- panel d ---------- */
(function(){
  const g=panelGroup('panel-d');
  const box=[516.3,300.3,705.3,484];
  const x=linear(0,518,6,677.3);
  const y=linear(0,476.3,0.6,332.3);
  const topBase=298.3,topH=33,rightBase=708,rightW=34;
  const tp=dTopDensityX.map((v,i)=>[x(v),topBase-dTopDensityV[i]*topH]);
  const top=make('path',g,{d:'M'+x(dTopDensityX[0])+' '+topBase+'L'+tp[0][0]+' '+tp[0][1]+curve(tp)+'L'+tp[tp.length-1][0]+' '+topBase+'Z',fill:'#c5161d',stroke:'#300','stroke-width':.8});
  
  
  const rp=dRightDensityY.map((v,i)=>[rightBase+dRightDensityV[i]*rightW,y(v)]);
  const right=make('path',g,{d:'M'+rightBase+' '+rp[0][1]+'L'+rp[0][0]+' '+rp[0][1]+curve(rp)+'L'+rightBase+' '+rp[rp.length-1][1]+'Z',fill:'#1f78b4',stroke:'#061a2a','stroke-width':.8});
  
  
  const rb=make('line',g,{x1:707,x2:707,y1:308,y2:476,stroke:'#aaa','stroke-width':2});
  
  
  const ch=(a,b,t)=>Math.round(a+(b-a)*t);
  const colorFor=v=>{
    if(v<3){const t=Math.max(0,(v-0.2)/2.8);return 'rgb('+ch(30,140,t)+','+ch(105,60,t)+','+ch(255,180,t)+')';}
    const t=Math.min(1,(v-3)/3.7);return 'rgb('+ch(140,205,t)+','+ch(60,20,t)+','+ch(180,50,t)+')';
  };
  dPoints.forEach(p=>{
    const c=make('circle',g,{cx:x(p[0]).toFixed(2),cy:y(p[1]).toFixed(2),r:1.9,fill:colorFor(p[0])});
    
    
  });
  let d='M'+dBandX.map((v,i)=>x(v)+' '+y(dBandHigh[i])).join('L');
  d+='L'+dBandX.map((v,i)=>x(v)+' '+y(dBandLow[i])).reverse().join('L')+'Z';
  const band=make('path',g,{d:d,fill:'#7fc8cc','fill-opacity':.8});
  
  
  const fit=make('line',g,{x1:x(dFitX[0]),y1:y(dFitY[0]),x2:x(dFitX[1]),y2:y(dFitY[1]),stroke:'#5f7f9f','stroke-width':1.4});
  
  
  drawFrame(g,box,'#555',1.1);
  drawYAxis(g,box,y,dYTicks,dYLabels,6.5,400,'#555');
  drawXAxis(g,box,x,dXTicks,dXLabels,6.5,400,'#555',492.5);
})();

/* ---------- panels e to j ---------- */
drawDualPanel({id:'e',box:[25,542.3,218.3,712.7],v0:0,p0:707.3,v1:2,p1:587.3,lowX:77.3,highX:166,halfBox:33,lowMax:40,highMax:35,jitter:9.5,lowVY:eLowViolinY,lowVD:eLowViolinD,lowBox:eLowBox,lowPts:eLowPoints,highVY:eHighViolinY,highVD:eHighViolinD,highBox:eHighBox,highPts:eHighPoints,ticks:eTicks,labels:eTickLabels,cats:dualCategories,catY:724,brTop:549.3,brEnd:552.7,star:'***',starY:549});
drawDualPanel({id:'f',box:[300.3,542.3,474.3,712.7],v0:0,p0:709.3,v1:0.075,p1:574,lowX:347.3,highX:427.7,halfBox:30,lowMax:36,highMax:35,jitter:9,lowVY:fLowViolinY,lowVD:fLowViolinD,lowBox:fLowBox,lowPts:fLowPoints,highVY:fHighViolinY,highVD:fHighViolinD,highBox:fHighBox,highPts:fHighPoints,ticks:fTicks,labels:fTickLabels,cats:dualCategories,catY:724,brTop:549.3,brEnd:552.7,star:'*',starY:549});
drawDualPanel({id:'g',box:[535.7,542.3,721.3,712.7],v0:0,p0:706,v1:1.5,p1:555.7,lowX:586,highX:671,halfBox:32.3,lowMax:33,highMax:38,jitter:9,lowVY:gLowViolinY,lowVD:gLowViolinD,lowBox:gLowBox,lowPts:gLowPoints,highVY:gHighViolinY,highVD:gHighViolinD,highBox:gHighBox,highPts:gHighPoints,ticks:gTicks,labels:gTickLabels,cats:dualCategories,catY:724,brTop:549.3,brEnd:552.7,star:'**',starY:549});
drawDualPanel({id:'h',box:[25,758,218.3,929],v0:0,p0:928.3,v1:3,p1:790.3,lowX:77.3,highX:166,halfBox:33,lowMax:40,highMax:33,jitter:9.5,lowVY:hLowViolinY,lowVD:hLowViolinD,lowBox:hLowBox,lowPts:hLowPoints,highVY:hHighViolinY,highVD:hHighViolinD,highBox:hHighBox,highPts:hHighPoints,ticks:hTicks,labels:hTickLabels,cats:dualCategories,catY:940,brTop:765,brEnd:769,star:'***',starY:765});
drawDualPanel({id:'i',box:[281.3,758.3,474.3,930],v0:2,p0:903.3,v1:7,p1:762.3,lowX:333.3,highX:422.3,halfBox:33,lowMax:40,highMax:36,jitter:9.5,lowVY:iLowViolinY,lowVD:iLowViolinD,lowBox:iLowBox,lowPts:iLowPoints,highVY:iHighViolinY,highVD:iHighViolinD,highBox:iHighBox,highPts:iHighPoints,ticks:iTicks,labels:iTickLabels,cats:dualCategories,catY:941,brTop:765,brEnd:769,star:'***',starY:765});
drawDualPanel({id:'j',box:[527.3,760.7,721.3,931],v0:4,p0:895.3,v1:7,p1:760.7,lowX:580.3,highX:668.7,halfBox:33,lowMax:39,highMax:33,jitter:9.5,lowVY:jLowViolinY,lowVD:jLowViolinD,lowBox:jLowBox,lowPts:jLowPoints,highVY:jHighViolinY,highVD:jHighViolinD,highBox:jHighBox,highPts:jHighPoints,ticks:jTicks,labels:jTickLabels,cats:dualCategories,catY:941,brTop:767.7,brEnd:771,star:'***',starY:767.5,frameColor:'#555',frameWidth:1.3});
</script>
</body>
</html>
